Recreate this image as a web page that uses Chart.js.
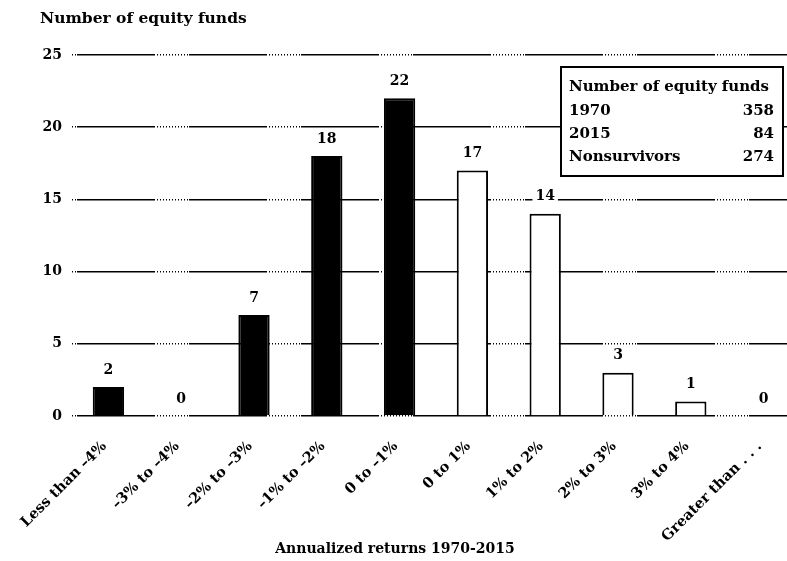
<!DOCTYPE html>
<html>
<head>
<meta charset="utf-8">
<script src="https://cdn.jsdelivr.net/npm/chart.js@4"></script>
<style>
    html, body { margin: 0; padding: 0; background: #fff; overflow: hidden; }
    #wrap { width: 800px; height: 561px; }
</style>
</head>
<body>
<div id="wrap"><canvas id="fundsChart" width="800" height="561"></canvas></div>
<script>
const categories = [
    'Less than \u20134%', '\u20133% to \u20134%', '\u20132% to \u20133%', '\u20131% to \u20132%', '0 to \u20131%',
    '0 to 1%', '1% to 2%', '2% to 3%', '3% to 4%', 'Greater than . . .'
];
const fundCounts = [2, 0, 7, 18, 22, 17, 14, 3, 1, 0];
const yTicks = [0, 5, 10, 15, 20, 25];
const boxTitle = 'Number of equity funds';
const boxLabels = ['1970', '2015', 'Nonsurvivors'];
const boxValues = [358, 84, 274];

const FONT = "'DejaVu Serif', serif";
Chart.defaults.font.family = FONT;
Chart.defaults.color = '#000';

// solid run, then a dotted run, repeating every 112px like the scan
const gridDash = [78];
for (let i = 0; i < 11; i++) gridDash.push(2, 1);
gridDash.push(1);

const labelsPlugin = {
    id: 'labelsPlugin',
    afterDatasetsDraw(chart) {
        const ctx = chart.ctx;
        const meta = chart.getDatasetMeta(0);
        ctx.save();

        // value labels above bars
        ctx.font = 'bold 14px ' + FONT;
        ctx.textAlign = 'center';
        ctx.textBaseline = 'middle';
        meta.data.forEach((bar, i) => {
            const txt = String(fundCounts[i]);
            const w = ctx.measureText(txt).width;
            const y = bar.y - 17;
            ctx.fillStyle = '#fff';
            ctx.fillRect(bar.x - w / 2 - 3, y - 8, w + 6, 16);
            ctx.fillStyle = '#000';
            ctx.fillText(txt, bar.x, y);
        });

        // axis titles
        ctx.textBaseline = 'alphabetic';
        ctx.textAlign = 'left';
        ctx.font = 'bold 15.5px ' + FONT;
        ctx.fillText('Number of equity funds', 40, 23);
        ctx.textAlign = 'center';
        ctx.font = 'bold 14px ' + FONT;
        ctx.fillText('Annualized returns 1970-2015', 395, 553);

        // inset box
        ctx.fillStyle = '#fff';
        ctx.fillRect(561, 67, 222, 109);
        ctx.strokeStyle = '#000';
        ctx.lineWidth = 2;
        ctx.strokeRect(561, 67, 222, 109);
        ctx.fillStyle = '#000';
        ctx.font = 'bold 15px ' + FONT;
        ctx.textAlign = 'left';
        ctx.fillText(boxTitle, 569, 91);
        const rows = [115, 138, 161];
        boxLabels.forEach((lab, i) => {
            ctx.textAlign = 'left';
            ctx.fillText(lab, 569, rows[i]);
            ctx.textAlign = 'right';
            ctx.fillText(String(boxValues[i]), 774, rows[i]);
        });
        ctx.restore();
    }
};

const ctx = document.getElementById('fundsChart').getContext('2d');
const chart = new Chart(ctx, {
    type: 'bar',
    data: {
        labels: categories,
        datasets: [{
            data: fundCounts,
            backgroundColor: fundCounts.map((v, i) => i < 5 ? '#000' : '#fff'),
            borderColor: '#000',
            borderWidth: 2,
            categoryPercentage: 1,
            barPercentage: 0.43
        }]
    },
    options: {
        responsive: false,
        animation: false,
        layout: { padding: { top: 55, left: 0, right: 0, bottom: 0 } },
        plugins: {
            legend: { display: false },
            tooltip: { enabled: false }
        },
        scales: {
            x: {
                grid: { display: false },
                border: { display: false },
                ticks: {
                    autoSkip: false,
                    maxRotation: 45,
                    minRotation: 45,
                    padding: 14,
                    labelOffset: -4,
                    font: { size: 14.5, weight: 'bold' }
                },
                afterFit(scale) { scale.height = 145; }
            },
            y: {
                min: 0,
                max: 25,
                afterBuildTicks(scale) { scale.ticks = yTicks.map(v => ({ value: v })); },
                grid: { color: '#000', lineWidth: 1.5, drawTicks: false },
                border: { display: false, dash: gridDash, dashOffset: 107 },
                ticks: { padding: 10, font: { size: 14, weight: 'bold' } },
                afterFit(scale) { scale.width = 72; }
            }
        }
    },
    plugins: [labelsPlugin]
});
</script>
</body>
</html>
